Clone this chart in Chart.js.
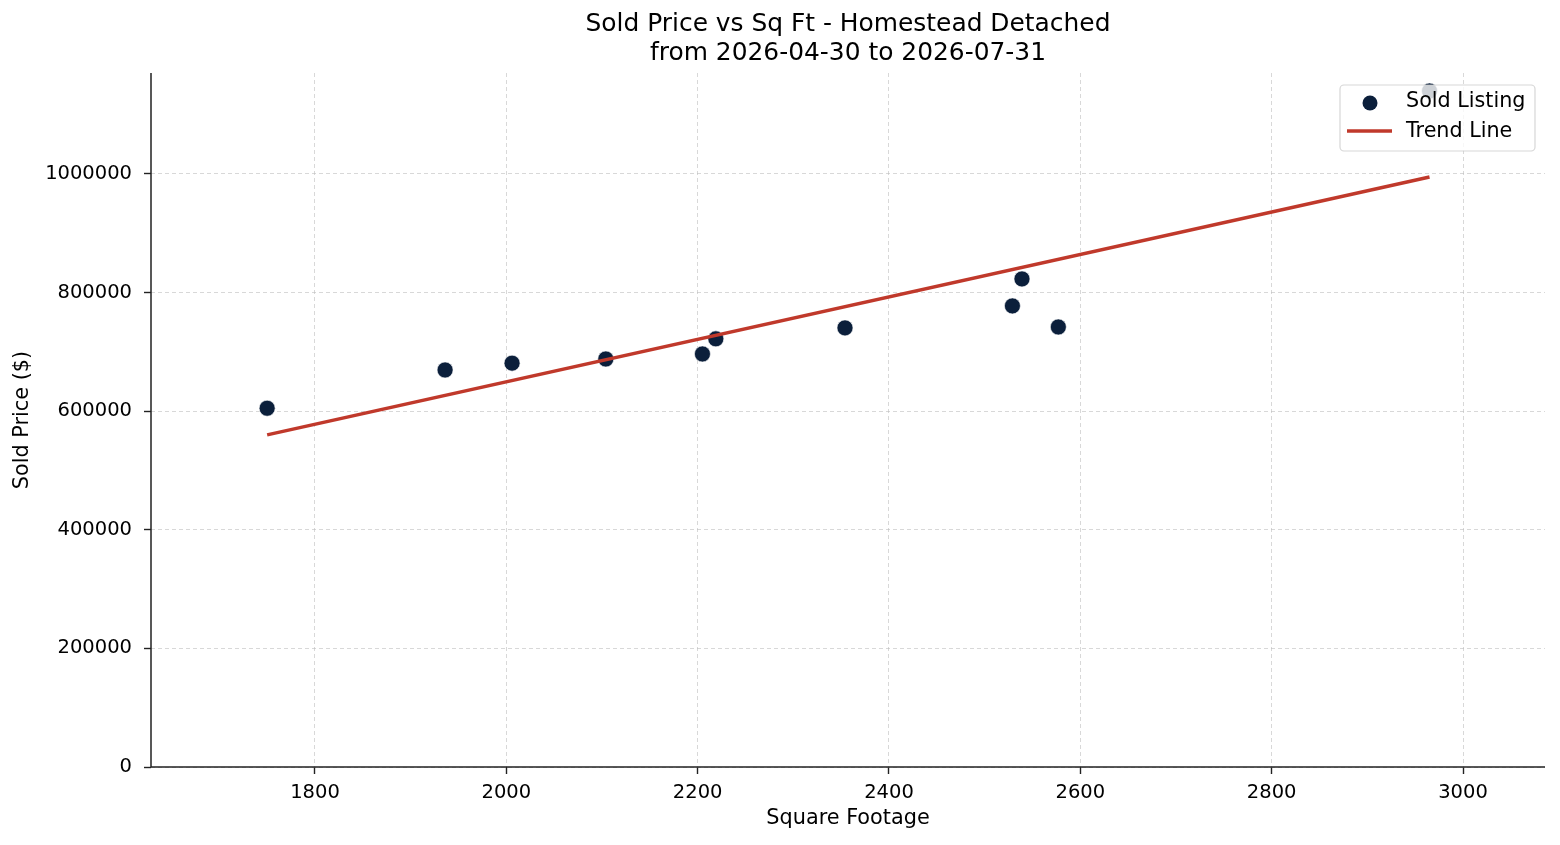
<!DOCTYPE html>
<html>
<head>
<meta charset="utf-8">
<script src="https://cdn.jsdelivr.net/npm/chart.js@4.4.1/dist/chart.umd.min.js"></script>
<style>
  html, body { margin: 0; padding: 0; background: #ffffff; }
  #wrap { width: 1560px; height: 845px; position: relative; }
</style>
</head>
<body>
<div id="wrap"><canvas id="c" width="1560" height="845"></canvas></div>
<script>
// ---- data ----
const sqft   = [1750, 1936, 2006, 2104, 2205, 2219, 2354, 2529, 2539, 2577, 2965];
const prices = [605000, 669500, 681000, 688000, 696500, 722000, 740500, 777500, 823000, 742000, 1140000];
const trendX = [1750, 2965];
const trendY = [560000, 995000];
const xTicks = [1800, 2000, 2200, 2400, 2600, 2800, 3000];
const yTicks = [0, 200000, 400000, 600000, 800000, 1000000];
const titleLines = ['Sold Price vs Sq Ft - Homestead Detached', 'from 2026-04-30 to 2026-07-31'];
const xLabel = 'Square Footage';
const yLabel = 'Sold Price ($)';
const seriesNames = ['Sold Listing', 'Trend Line'];

const FONT = "'DejaVu Sans', sans-serif";
const POINT_COLOR = '#0b1f3b';
const LINE_COLOR = '#c0392b';
const AXIS_COLOR = '#222222';

const textPlugin = {
  id: 'texts',
  beforeDatasetsDraw(chart) {
    const ctx = chart.ctx;
    const a = chart.chartArea;
    ctx.save();
    ctx.strokeStyle = AXIS_COLOR;
    ctx.lineWidth = 1.5;
    ctx.setLineDash([]);
    ctx.beginPath();
    ctx.moveTo(a.left, a.top);
    ctx.lineTo(a.left, a.bottom);
    ctx.lineTo(a.right, a.bottom);
    ctx.stroke();
    ctx.restore();
  },
  afterDatasetsDraw(chart) {
    const ctx = chart.ctx;
    ctx.save();
    const lx = 1340, ly = 85, lw = 195, lh = 66, r = 4;
    ctx.beginPath();
    ctx.moveTo(lx + r, ly);
    ctx.arcTo(lx + lw, ly, lx + lw, ly + lh, r);
    ctx.arcTo(lx + lw, ly + lh, lx, ly + lh, r);
    ctx.arcTo(lx, ly + lh, lx, ly, r);
    ctx.arcTo(lx, ly, lx + lw, ly, r);
    ctx.closePath();
    ctx.fillStyle = 'rgba(255,255,255,0.8)';
    ctx.fill();
    ctx.strokeStyle = 'rgba(204,204,204,0.8)';
    ctx.lineWidth = 1.2;
    ctx.stroke();
    ctx.beginPath();
    ctx.arc(1370, 103, 7.5, 0, Math.PI * 2);
    ctx.fillStyle = POINT_COLOR;
    ctx.fill();
    ctx.beginPath();
    ctx.moveTo(1347, 131);
    ctx.lineTo(1392, 131);
    ctx.strokeStyle = LINE_COLOR;
    ctx.lineWidth = 3.5;
    ctx.stroke();
    ctx.fillStyle = '#000';
    ctx.font = '20.7px ' + FONT;
    ctx.textAlign = 'left';
    ctx.textBaseline = 'middle';
    ctx.fillText(seriesNames[0], 1406, 102);
    ctx.fillText(seriesNames[1], 1406, 132);
    ctx.restore();
  },
  afterDraw(chart) {
    const ctx = chart.ctx;
    const a = chart.chartArea;
    const cx = (a.left + a.right) / 2;
    ctx.save();
    ctx.fillStyle = '#000';
    ctx.textAlign = 'center';
    ctx.textBaseline = 'middle';
    ctx.font = '24.9px ' + FONT;
    ctx.fillText(titleLines[0], cx, 25);
    ctx.fillText(titleLines[1], cx, 54);
    ctx.font = '20.8px ' + FONT;
    ctx.fillText(xLabel, cx, 819);
    ctx.translate(23, (a.top + a.bottom) / 2);
    ctx.rotate(-Math.PI / 2);
    ctx.fillText(yLabel, 0, 0);
    ctx.restore();
  }
};

const gridCommon = {
  color: 'rgba(190,190,190,0.75)',
  lineWidth: 0.8,
  tickColor: AXIS_COLOR,
  tickLength: 7,
  tickWidth: 1.4,
  tickBorderDash: [],
  drawTicks: true
};

new Chart(document.getElementById('c'), {
  type: 'scatter',
  data: {
    datasets: [
      {
        label: seriesNames[0],
        data: sqft.map((x, i) => ({ x: x, y: prices[i] })),
        backgroundColor: POINT_COLOR,
        borderColor: '#ffffff',
        borderWidth: 0.6,
        pointRadius: 8,
        pointHoverRadius: 8,
        order: 1
      },
      {
        label: seriesNames[1],
        data: trendX.map((x, i) => ({ x: x, y: trendY[i] })),
        showLine: true,
        borderColor: LINE_COLOR,
        backgroundColor: LINE_COLOR,
        borderWidth: 3.5,
        pointRadius: 0,
        pointHoverRadius: 0,
        order: 0
      }
    ]
  },
  options: {
    responsive: false,
    animation: false,
    events: [],
    devicePixelRatio: 1,
    layout: { padding: { top: 73, right: 15, left: 0, bottom: 0 } },
    plugins: {
      legend: { display: false },
      title: { display: false },
      tooltip: { enabled: false }
    },
    scales: {
      x: {
        type: 'linear',
        min: 1628.6,
        max: 3085.7,
        afterBuildTicks: s => { s.ticks = xTicks.map(v => ({ value: v })); },
        afterFit: s => { s.height = 78; },
        grid: gridCommon,
        border: { display: false, dash: [4, 3] },
        ticks: {
          color: '#000',
          font: { family: FONT, size: 19.5 },
          padding: 7,
          maxRotation: 0,
          callback: v => String(v)
        }
      },
      y: {
        type: 'linear',
        min: 0,
        max: 1170300,
        afterBuildTicks: s => { s.ticks = yTicks.map(v => ({ value: v })); },
        afterFit: s => { s.width = 151; },
        grid: gridCommon,
        border: { display: false, dash: [4, 3] },
        ticks: {
          color: '#000',
          font: { family: FONT, size: 19.5 },
          padding: 12,
          callback: v => String(v)
        }
      }
    }
  },
  plugins: [textPlugin]
});
</script>
</body>
</html>
